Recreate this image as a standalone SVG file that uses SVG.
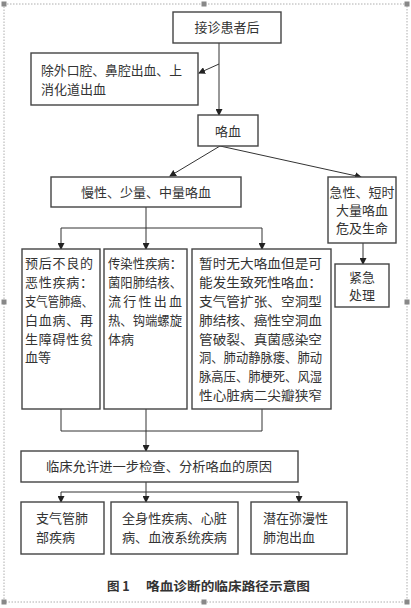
<svg xmlns="http://www.w3.org/2000/svg" width="411" height="608" viewBox="0 0 411 608">
<style>
.bx{fill:#fff;stroke:#444;stroke-width:1.4}
.ln{fill:none;stroke:#333;stroke-width:1}
.t{font-family:"Noto Sans CJK SC","Noto Sans",sans-serif;font-size:13px;fill:#333}
.c{text-anchor:middle}
.cap{font-family:"Noto Sans CJK SC","Noto Sans",sans-serif;font-size:12.5px;font-weight:bold;fill:#333}
.h{fill:#888}
</style>
<defs>
<marker id="ar" markerWidth="7" markerHeight="7" refX="6" refY="3.5" orient="auto" markerUnits="userSpaceOnUse">
<path d="M0,0 L7,3.5 L0,7 z" fill="#222"/>
</marker>
</defs>
<rect width="411" height="608" fill="#fff"/>
<g id="frame">
<rect x="4" y="4" width="403" height="598" fill="none" stroke="#999" stroke-width="0.8" stroke-dasharray="1.5,1.5"/>
<rect class="h" x="1.5" y="1.5" width="5" height="5"/>
<rect class="h" x="201.5" y="1.5" width="5" height="5"/>
<rect class="h" x="404.5" y="1.5" width="5" height="5"/>
<rect class="h" x="1.5" y="299.5" width="5" height="5"/>
<rect class="h" x="404.5" y="299.5" width="5" height="5"/>
<rect class="h" x="1.5" y="599.5" width="5" height="5"/>
<rect class="h" x="201.5" y="599.5" width="5" height="5"/>
<rect class="h" x="404.5" y="599.5" width="5" height="5"/>
</g>
<g id="connectors">
<line class="ln" x1="219" y1="43" x2="219" y2="115" marker-end="url(#ar)"/>
<line class="ln" x1="219" y1="64" x2="199" y2="73" marker-end="url(#ar)"/>
<line class="ln" x1="220" y1="146" x2="170" y2="176" marker-end="url(#ar)"/>
<line class="ln" x1="220" y1="146" x2="361" y2="177" marker-end="url(#ar)"/>
<line class="ln" x1="146" y1="207" x2="146" y2="228"/>
<line class="ln" x1="61" y1="228" x2="262" y2="228"/>
<line class="ln" x1="61" y1="228" x2="61" y2="249" marker-end="url(#ar)"/>
<line class="ln" x1="146" y1="228" x2="146" y2="249" marker-end="url(#ar)"/>
<line class="ln" x1="262" y1="228" x2="262" y2="249" marker-end="url(#ar)"/>
<line class="ln" x1="363" y1="243" x2="363" y2="264" marker-end="url(#ar)"/>
<polyline class="ln" points="61,409 61,431 262,431 262,409"/>
<line class="ln" x1="146" y1="409" x2="146" y2="431"/>
<line class="ln" x1="146" y1="431" x2="146" y2="451" marker-end="url(#ar)"/>
<line class="ln" x1="146" y1="482" x2="146" y2="492"/>
<line class="ln" x1="61" y1="492" x2="299" y2="492"/>
<line class="ln" x1="61" y1="492" x2="61" y2="502" marker-end="url(#ar)"/>
<line class="ln" x1="146" y1="492" x2="146" y2="502" marker-end="url(#ar)"/>
<line class="ln" x1="299" y1="492" x2="299" y2="502" marker-end="url(#ar)"/>
</g>
<g id="n1">
<rect class="bx" x="173" y="12" width="108" height="31"/>
<text class="t c" x="227" y="32">接诊患者后</text>
</g>
<g id="n2">
<rect class="bx" x="31" y="53" width="167" height="52"/>
<text class="t" x="41" y="75" textLength="141" lengthAdjust="spacingAndGlyphs">除外口腔、鼻腔出血、上</text>
<text class="t" x="41" y="94">消化道出血</text>
</g>
<g id="n3">
<rect class="bx" x="198" y="115" width="60" height="31"/>
<text class="t c" x="228" y="136">咯血</text>
</g>
<g id="n4">
<rect class="bx" x="51" y="177" width="190" height="30"/>
<text class="t c" x="146" y="197">慢性、少量、中量咯血</text>
</g>
<g id="n5">
<rect class="bx" x="328" y="177" width="68" height="66"/>
<text class="t c" x="362" y="197">急性、短时</text>
<text class="t c" x="362" y="215">大量咯血</text>
<text class="t c" x="362" y="233">危及生命</text>
</g>
<g id="n6">
<rect class="bx" x="22" y="249" width="78" height="160"/>
<text class="t" x="25" y="268" textLength="68" lengthAdjust="spacing">预后不良的</text>
<text class="t" x="25" y="287" textLength="68" lengthAdjust="spacing">恶性疾病：</text>
<text class="t" x="25" y="306" textLength="68" lengthAdjust="spacingAndGlyphs">支气管肺癌、</text>
<text class="t" x="25" y="325" textLength="68" lengthAdjust="spacing">白血病、再</text>
<text class="t" x="25" y="344" textLength="68" lengthAdjust="spacing">生障碍性贫</text>
<text class="t" x="25" y="362">血等</text>
</g>
<g id="n7">
<rect class="bx" x="104" y="249" width="83" height="160"/>
<text class="t" x="108" y="268" textLength="74" lengthAdjust="spacingAndGlyphs">传染性疾病：</text>
<text class="t" x="108" y="287" textLength="74" lengthAdjust="spacingAndGlyphs">菌阳肺结核、</text>
<text class="t" x="108" y="306" textLength="74" lengthAdjust="spacing">流行性出血</text>
<text class="t" x="108" y="325" textLength="74" lengthAdjust="spacingAndGlyphs">热、钩端螺旋</text>
<text class="t" x="108" y="344">体病</text>
</g>
<g id="n8">
<rect class="bx" x="192" y="249" width="139" height="160"/>
<text class="t" x="199" y="268" textLength="123" lengthAdjust="spacingAndGlyphs">暂时无大咯血但是可</text>
<text class="t" x="199" y="287" textLength="123" lengthAdjust="spacingAndGlyphs">能发生致死性咯血：</text>
<text class="t" x="199" y="306" textLength="123" lengthAdjust="spacingAndGlyphs">支气管扩张、空洞型</text>
<text class="t" x="199" y="325" textLength="123" lengthAdjust="spacingAndGlyphs">肺结核、癌性空洞血</text>
<text class="t" x="199" y="344" textLength="123" lengthAdjust="spacingAndGlyphs">管破裂、真菌感染空</text>
<text class="t" x="199" y="362" textLength="123" lengthAdjust="spacingAndGlyphs">洞、肺动静脉瘘、肺动</text>
<text class="t" x="199" y="381" textLength="123" lengthAdjust="spacingAndGlyphs">脉高压、肺梗死、风湿</text>
<text class="t" x="199" y="400" textLength="123" lengthAdjust="spacingAndGlyphs">性心脏病二尖瓣狭窄</text>
</g>
<g id="n9">
<rect class="bx" x="335" y="264" width="54" height="43"/>
<text class="t c" x="362" y="282">紧急</text>
<text class="t c" x="362" y="300">处理</text>
</g>
<g id="n10">
<rect class="bx" x="21" y="451" width="277" height="31"/>
<text class="t" x="46" y="471" textLength="226" lengthAdjust="spacingAndGlyphs">临床允许进一步检查、分析咯血的原因</text>
</g>
<g id="n11">
<rect class="bx" x="21" y="502" width="83" height="52"/>
<text class="t" x="36" y="523">支气管肺</text>
<text class="t" x="36" y="542">部疾病</text>
</g>
<g id="n12">
<rect class="bx" x="111" y="502" width="127" height="52"/>
<text class="t" x="122" y="523" textLength="105" lengthAdjust="spacingAndGlyphs">全身性疾病、心脏</text>
<text class="t" x="122" y="542" textLength="105" lengthAdjust="spacingAndGlyphs">病、血液系统疾病</text>
</g>
<g id="n13">
<rect class="bx" x="251" y="502" width="96" height="52"/>
<text class="t" x="263" y="523">潜在弥漫性</text>
<text class="t" x="263" y="542">肺泡出血</text>
</g>
<g id="caption">
<text class="cap" x="107" y="591">图 1</text>
<text class="cap" x="146" y="591" textLength="164" lengthAdjust="spacingAndGlyphs">咯血诊断的临床路径示意图</text>
</g>
</svg>
